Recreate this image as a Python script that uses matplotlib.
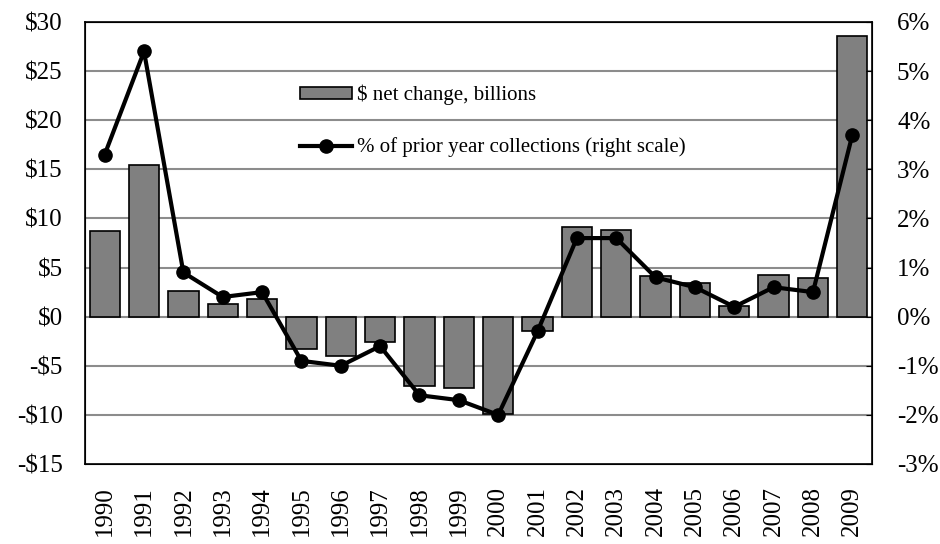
import matplotlib
matplotlib.use("Agg")
import matplotlib.pyplot as plt
import numpy as np

plt.rcParams['font.family'] = ['Liberation Serif', 'DejaVu Serif']

years = [str(y) for y in range(1990, 2010)]
net_change = [8.7, 15.4, 2.6, 1.3, 1.8, -3.3, -4.0, -2.6, -7.1, -7.3,
              -9.9, -1.5, 9.1, 8.8, 4.1, 3.4, 1.1, 4.2, 3.9, 28.6]
pct_prior = [3.3, 5.4, 0.9, 0.4, 0.5, -0.9, -1.0, -0.6, -1.6, -1.7,
             -2.0, -0.3, 1.6, 1.6, 0.8, 0.6, 0.2, 0.6, 0.5, 3.7]

fig = plt.figure(figsize=(9.4, 5.44), dpi=100)
ax = fig.add_axes([85 / 940, 1 - 464 / 544, 787 / 940, 442 / 544])
x = np.arange(len(years))

for v in range(-10, 31, 5):
    ax.axhline(v, color='#8c8c8c', lw=1.5, zorder=0)

bars = ax.bar(x, net_change, width=0.77, color='#808080', edgecolor='black',
              lw=1.2, zorder=2, label='$ net change, billions')
ax.set_xlim(-0.5, len(years) - 0.5)
ax.set_ylim(-15, 30)
ax.set_yticks(range(-15, 31, 5))
ax.set_yticklabels([f"-${-v}" if v < 0 else f"${v}" for v in range(-15, 31, 5)])
ax.set_xticks(x)
ax.set_xticklabels(years, rotation=90)
ax.tick_params(axis='x', length=0, labelsize=18, pad=16)
ax.tick_params(axis='y', length=0, labelsize=18, pad=16)
for s in ax.spines.values():
    s.set_linewidth(1.2)

ax2 = ax.twinx()
line, = ax2.plot(x, pct_prior, color='black', lw=3, marker='o', ms=9.5,
                 zorder=3, label='% of prior year collections (right scale)')
ax2.set_ylim(-3, 6)
ax2.set_yticks(range(-3, 7))
ax2.set_yticklabels([f"{v}%" for v in range(-3, 7)])
ax2.tick_params(axis='y', direction='in', length=4, labelsize=18, pad=18)

leg = ax2.legend([bars, line], [bars.get_label(), line.get_label()],
                 loc='upper left', bbox_to_anchor=(0.273, 0.858), frameon=False,
                 fontsize=15, handlelength=2.5, handleheight=0.5,
                 handletextpad=0.25, labelspacing=1.55, borderaxespad=0,
                 borderpad=0)

fig.savefig('out.png', dpi=100)
